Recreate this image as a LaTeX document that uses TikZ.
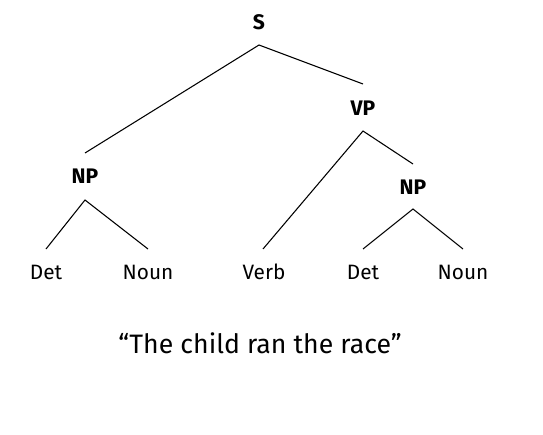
\documentclass[tikz,border=0pt]{standalone}
\usepackage{fontspec}
\setmainfont{Fira Sans}
\tikzset{
  px/.style={x=0.75pt,y=-0.75pt},
  cat/.style={font=\fontsize{15.8}{18}\selectfont\bfseries, inner sep=0pt},
  word/.style={font=\fontsize{15.6}{18}\selectfont, inner sep=0pt},
  sent/.style={font=\fontsize{20}{24}\selectfont, inner sep=0pt},
  edge/.style={line width=0.8pt, black}
}
\begin{document}
\begin{tikzpicture}[px]
\useasboundingbox (0,0) rectangle (543,435);
% labels
\node[cat] (S) at (259,22) {S};
\node[cat] (VP) at (363,108) {VP};
\node[cat] (NP1) at (85,176) {NP};
\node[cat] (NP2) at (413,187) {NP};
\node[word] (Det1) at (46,272) {Det};
\node[word] (Noun1) at (148,272) {Noun};
\node[word] (Verb) at (264,272) {Verb};
\node[word] (Det2) at (363,272) {Det};
\node[word] (Noun2) at (463,272) {Noun};
\node[sent] (Sent) at (260,343) {“The child ran the race”};
% connector ends
\coordinate (Sa) at (259,45);
\coordinate (VPt) at (363,84);
\coordinate (NP1t) at (85,153);
\coordinate (VPa) at (363,131);
\coordinate (NP2t) at (413,164);
\coordinate (NP1a) at (85,200);
\coordinate (NP2a) at (413,209);
\coordinate (Det1t) at (46,249);
\coordinate (Noun1t) at (148,249);
\coordinate (Verbt) at (263,249);
\coordinate (Det2t) at (363,249);
\coordinate (Noun2t) at (463,249);
% connectors
\draw[edge] (NP1t) -- (Sa) -- (VPt);
\draw[edge] (Verbt) -- (VPa) -- (NP2t);
\draw[edge] (Det1t) -- (NP1a) -- (Noun1t);
\draw[edge] (Det2t) -- (NP2a) -- (Noun2t);
\end{tikzpicture}
\end{document}
